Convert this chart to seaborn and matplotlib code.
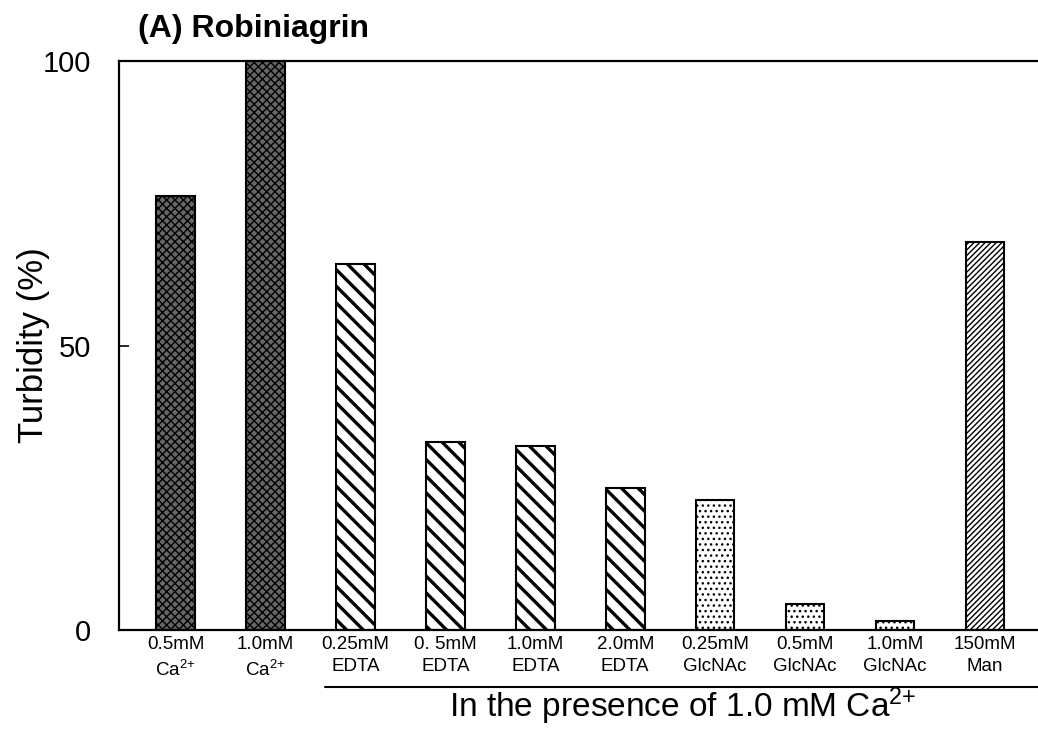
import numpy as np
import pandas as pd
import seaborn as sns
import matplotlib.pyplot as plt
from matplotlib.lines import Line2D

# data
labels = ['0.5mM\nCa$^{\\text{2+}}$', '1.0mM\nCa$^{\\text{2+}}$', '0.25mM\nEDTA', '0. 5mM\nEDTA',
          '1.0mM\nEDTA', '2.0mM\nEDTA', '0.25mM\nGlcNAc', '0.5mM\nGlcNAc',
          '1.0mM\nGlcNAc', '150mM\nMan']
turbidity = [76.3, 100.0, 64.3, 33.0, 32.3, 25.0, 22.8, 4.6, 1.6, 68.2]
faces = ['#666666', '#666666', 'white', 'white', 'white', 'white',
         'white', 'white', 'white', 'white']
hatches = ['xxxx', 'xxxx', '\\\\', '\\\\', '\\\\', '\\\\',
           '...', '...', '...', '//////']
hatch_lw = [1.0, 1.0, 2.4, 2.4, 2.4, 2.4, 1.0, 1.0, 1.0, 1.0]

sns.set_style('white')
plt.rcParams['font.family'] = ['Liberation Sans', 'DejaVu Sans']
plt.rcParams['mathtext.fontset'] = 'custom'
plt.rcParams['mathtext.rm'] = 'Liberation Sans'
plt.rcParams['mathtext.it'] = 'Liberation Sans:italic'
plt.rcParams['mathtext.default'] = 'regular'
plt.rcParams['hatch.linewidth'] = 1.0
for k in ['text.color', 'axes.labelcolor', 'xtick.color', 'ytick.color']:
    plt.rcParams[k] = 'black'

df = pd.DataFrame({'cond': labels, 'turbidity': turbidity})

fig = plt.figure(figsize=(10.38, 7.30), dpi=100)
ax = fig.add_axes([0.1146, 0.137, 1.0 - 0.1146, 0.9164 - 0.137])

sns.barplot(data=df, x='cond', y='turbidity', hue='cond', order=labels,
            palette=['white'] * len(labels), legend=False, width=0.43,
            edgecolor='black', linewidth=1.5, ax=ax)

for p, fc, h, lw in zip(ax.patches, faces, hatches, hatch_lw):
    p.set_facecolor(fc)
    p.set_hatch(h)
    p.set_edgecolor('black')
    if hasattr(p, 'set_hatch_linewidth'):
        p.set_hatch_linewidth(lw)

ax.set_ylim(0, 100)
ax.set_xlim(-0.63, 9.59)
ax.set_yticks([0, 50, 100])
ax.tick_params(axis='y', direction='in', length=7, width=1.2, labelsize=21, pad=20, left=True)
ax.tick_params(axis='x', length=0, labelsize=13.5, pad=4)
for t in ax.get_xticklabels():
    t.set_linespacing(1.45)
ax.set_xlabel('')
ax.set_ylabel('Turbidity (%)', fontsize=25)
ax.yaxis.set_label_coords(-0.075, 0.5)

for s in ['left', 'top', 'bottom']:
    ax.spines[s].set_visible(True)
    ax.spines[s].set_linewidth(1.6)
    ax.spines[s].set_color('black')
ax.spines['right'].set_visible(False)

fig.text(0.133, 0.96, '(A) Robiniagrin', fontsize=23, fontweight='bold',
         ha='left', va='center')

fig.add_artist(Line2D([0.313, 1.0], [0.059, 0.059], transform=fig.transFigure,
                      color='black', linewidth=1.5))
fig.text(0.658, 0.018, 'In the presence of 1.0 mM Ca$^{\\text{2+}}$', fontsize=24,
         ha='center', va='baseline')

fig.savefig('out.png', dpi=100)
